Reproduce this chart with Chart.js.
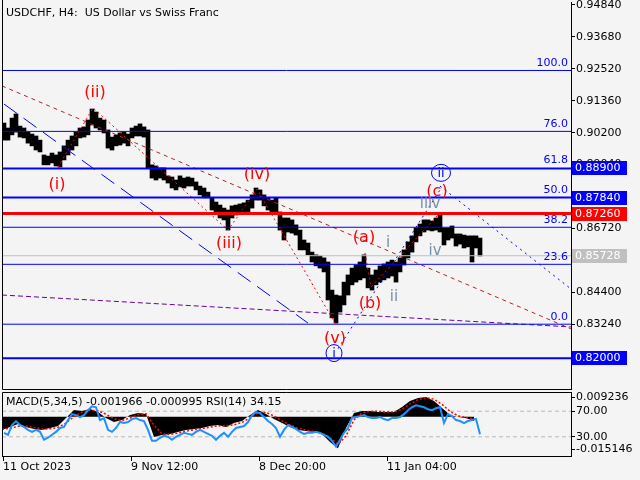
<!DOCTYPE html>
<html>
<head>
<meta charset="utf-8">
<script src="https://cdn.jsdelivr.net/npm/chart.js@4.4.1/dist/chart.umd.min.js"></script>
<style>
  html, body { margin: 0; padding: 0; background: #f4f4f4; }
  #wrap { position: relative; width: 640px; height: 480px; overflow: hidden; }
  #main { position: absolute; left: 0; top: 0; }
  #sub { position: absolute; left: 0; top: 390px; }
</style>
</head>
<body>
<div id="wrap">
  <canvas id="main" width="640" height="392"></canvas>
  <canvas id="sub" width="640" height="90"></canvas>
</div>
<script>
// ==========================
// Data (one high/low pair per 4 bars)
// ==========================
const priceHigh = [
  0.9055, 0.9037, 0.9073, 0.9088, 0.9044, 0.9037, 0.9022, 0.9015, 0.9008, 0.8993,
  0.8939, 0.8935, 0.8946, 0.8939, 0.8950, 0.8972, 0.8993, 0.9008, 0.9022, 0.9037,
  0.9041, 0.9066, 0.9106, 0.9095, 0.9073, 0.9066, 0.9030, 0.9004, 0.9012, 0.9019,
  0.9022, 0.9015, 0.9037, 0.9044, 0.9052, 0.9041, 0.9030, 0.8903, 0.8899, 0.8892,
  0.8892, 0.8863, 0.8859, 0.8848, 0.8863, 0.8855, 0.8859, 0.8855, 0.8841, 0.8826,
  0.8819, 0.8804, 0.8783, 0.8768, 0.8757, 0.8746, 0.8739, 0.8754, 0.8757, 0.8761,
  0.8765, 0.8775, 0.8794, 0.8819, 0.8812, 0.8794, 0.8783, 0.8775, 0.8783, 0.8732,
  0.8710, 0.8710, 0.8703, 0.8685, 0.8666, 0.8630, 0.8619, 0.8586, 0.8576, 0.8572,
  0.8565, 0.8550, 0.8448, 0.8430, 0.8427, 0.8477, 0.8503, 0.8528, 0.8539, 0.8550,
  0.8576, 0.8528, 0.8503, 0.8521, 0.8536, 0.8543, 0.8550, 0.8557, 0.8550, 0.8565,
  0.8594, 0.8623, 0.8645, 0.8674, 0.8688, 0.8703, 0.8703, 0.8699, 0.8710, 0.8721,
  0.8674, 0.8674, 0.8681, 0.8652, 0.8652, 0.8648, 0.8645, 0.8645, 0.8645, 0.8637
];
const priceLow = [
  0.8993, 0.8993, 0.9012, 0.9022, 0.9004, 0.9001, 0.8982, 0.8972, 0.8957, 0.8950,
  0.8903, 0.8903, 0.8910, 0.8899, 0.8895, 0.8921, 0.8939, 0.8957, 0.8972, 0.9001,
  0.9004, 0.9012, 0.9048, 0.9037, 0.9030, 0.9019, 0.8964, 0.8957, 0.8972, 0.8975,
  0.8982, 0.8972, 0.9001, 0.9008, 0.9008, 0.9004, 0.8892, 0.8855, 0.8848, 0.8855,
  0.8848, 0.8837, 0.8819, 0.8812, 0.8823, 0.8819, 0.8826, 0.8826, 0.8812, 0.8794,
  0.8783, 0.8783, 0.8739, 0.8725, 0.8710, 0.8703, 0.8666, 0.8710, 0.8721, 0.8728,
  0.8732, 0.8732, 0.8746, 0.8775, 0.8775, 0.8754, 0.8739, 0.8732, 0.8728, 0.8666,
  0.8630, 0.8659, 0.8655, 0.8648, 0.8594, 0.8594, 0.8576, 0.8550, 0.8536, 0.8528,
  0.8514, 0.8412, 0.8347, 0.8328, 0.8368, 0.8394, 0.8430, 0.8467, 0.8477, 0.8485,
  0.8492, 0.8456, 0.8448, 0.8467, 0.8477, 0.8485, 0.8492, 0.8499, 0.8477, 0.8514,
  0.8539, 0.8565, 0.8586, 0.8623, 0.8645, 0.8659, 0.8666, 0.8663, 0.8666, 0.8659,
  0.8612, 0.8630, 0.8637, 0.8608, 0.8615, 0.8601, 0.8605, 0.8550, 0.8601, 0.8572
];
const lastPrice = 0.85728;

// MACD(5,34,5): one value per 8 bars
const macdMain = [
  -0.0062, -0.0048, -0.0034, -0.0048, -0.0058, -0.0062, -0.0053, -0.0044, -0.0006, 0.0031,
  0.0027, 0.0036, 0.0022, -0.0006, -0.0025, -0.0016, 0.0008, 0.0017, 0.0013, -0.0095,
  -0.0086, -0.0081, -0.0072, -0.0062, -0.0058, -0.0053, -0.0044, -0.0039, -0.0048, -0.0030,
  -0.0020, 0.0008, 0.0031, 0.0013, -0.0011, -0.0030, -0.0048, -0.0062, -0.0067, -0.0072,
  -0.0081, -0.0119, -0.0148, -0.0053, 0.0017, 0.0027, 0.0027, 0.0022, 0.0022, 0.0022,
  0.0046, 0.0074, 0.0088, 0.0092, 0.0074, 0.0041, 0.0008, -0.0001, -0.0006, -0.0020
];
const macdSignal = [
  -0.0058, -0.0055, -0.0045, -0.0043, -0.0050, -0.0058, -0.0057, -0.0050, -0.0030, 0.0000,
  0.0022, 0.0030, 0.0028, 0.0012, -0.0010, -0.0018, -0.0006, 0.0010, 0.0014, -0.0040,
  -0.0080, -0.0083, -0.0077, -0.0068, -0.0061, -0.0056, -0.0049, -0.0042, -0.0044, -0.0038,
  -0.0027, -0.0006, 0.0018, 0.0020, 0.0003, -0.0020, -0.0038, -0.0054, -0.0063, -0.0069,
  -0.0076, -0.0098, -0.0130, -0.0090, -0.0015, 0.0018, 0.0025, 0.0025, 0.0022, 0.0022,
  0.0035, 0.0060, 0.0080, 0.0089, 0.0082, 0.0058, 0.0025, 0.0004, -0.0004, -0.0010
];
const macdMax = 0.009236;
const macdMin = -0.015146;

// RSI(14): one value per 4 bars
const rsiValues = [
  36.2, 33.1, 48.5, 54.6, 48.5, 45.4, 40.8, 37.7, 40.8, 37.7,
  25.4, 28.5, 33.1, 37.7, 43.8, 45.4, 56.1, 65.4, 63.8, 60.8,
  63.8, 71.5, 77.7, 76.2, 56.1, 59.2, 40.8, 37.7, 43.8, 53.1,
  51.5, 53.1, 57.7, 59.2, 56.1, 54.6, 40.8, 23.8, 23.8, 28.5,
  31.5, 30.0, 25.4, 30.0, 33.1, 36.2, 34.6, 33.1, 37.7, 40.8,
  37.7, 34.6, 31.5, 25.4, 31.5, 36.2, 30.0, 37.7, 43.8, 45.4,
  46.9, 53.1, 63.8, 68.5, 66.9, 60.8, 54.6, 50.0, 43.8, 30.0,
  40.8, 48.5, 45.4, 42.3, 37.7, 34.6, 36.2, 36.2, 37.7, 36.2,
  33.1, 30.0, 23.8, 14.6, 25.4, 36.2, 43.8, 59.2, 60.8, 62.3,
  63.8, 60.8, 59.2, 59.2, 60.8, 57.7, 56.1, 59.2, 59.2, 60.8,
  65.4, 71.5, 76.2, 79.2, 77.7, 76.2, 73.1, 71.5, 74.6, 76.2,
  51.5, 65.4, 62.3, 56.1, 54.6, 51.5, 54.6, 56.1, 57.7, 34.15
];
const rsiLevels = [70, 30];

// axes
const priceTicks = [0.9484, 0.9368, 0.9252, 0.9136, 0.9020, 0.8904, 0.8788, 0.8672, 0.8556, 0.8440, 0.8324, 0.8208];
const dateLabels = ['11 Oct 2023', '9 Nov 12:00', '8 Dec 20:00', '11 Jan 04:00'];
const dateBars = [1, 129, 257, 385];

// Fibonacci grid and horizontal levels
const fibZero = 0.8324;
const fibHundred = 0.9246;
const fibRatios = [100.0, 76.0, 61.8, 50.0, 38.2, 23.6, 0.0];
const keyLevels = [0.8890, 0.8784, 0.8726, 0.8200];

// trend lines, [bar, price]
const channelLine = [[0, 0.9190], [569, 0.8307]];
const waveZigzag = [[56, 0.8895], [91, 0.9110], [226, 0.8666], [255, 0.8815], [333, 0.8328]];
const abcZigzag = [[363, 0.8583], [369, 0.8459], [436, 0.8721]];
const blueDashed = [[2, 0.9124], [306, 0.8328]];
const purpleDashed = [[0, 0.8430], [569, 0.8314]];
const blueDotUp = [[336, 0.8235], [438, 0.8812]];
const blueDotDown = [[438, 0.8826], [569, 0.8452]];

// wave marks
const waveText = ['(i)', '(ii)', '(iii)', '(iv)', '(v)', '(a)', '(b)', '(c)'];
const waveBar = [55, 93, 227, 255, 333, 362, 368, 435];
const wavePrice = [0.8830, 0.9164, 0.8616, 0.8866, 0.8270, 0.8637, 0.8397, 0.8804];
const minorText = ['i', 'ii', 'iii', 'v', 'iv'];
const minorBar = [386, 392, 424, 434, 433];
const minorPrice = [0.8619, 0.8423, 0.8761, 0.8761, 0.8590];
const circleText = ['i', 'ii'];
const circleBar = [332, 439];
const circlePrice = [0.8219, 0.8874];

// ==========================
// Helpers
// ==========================
const FONT = '"DejaVu Sans"';
Chart.defaults.font.family = FONT;
Chart.defaults.font.size = 11;
Chart.defaults.color = '#000';
Chart.defaults.animation = false;

const LAST_BAR = 569;
const fibPrice = r => fibZero + (fibHundred - fibZero) * r / 100;

function pts(list) { return list.map(p => ({ x: p[0], y: p[1] })); }
function lineDs(list, color, width, dash, order) {
  return { type: 'line', data: pts(list), borderColor: color, borderWidth: width, borderDash: dash,
           pointRadius: 0, fill: false, tension: 0, order: order || 1 };
}
function hLine(v, color, width) { return lineDs([[0, v], [LAST_BAR, v]], color, width, []); }

// ==========================
// Main price panel
// ==========================
const mainOverlay = {
  id: 'mainOverlay',
  afterDraw(chart) {
    const { ctx, chartArea: a, scales: { x, y } } = chart;
    ctx.save();
    ctx.strokeStyle = '#000';
    ctx.lineWidth = 1;
    ctx.beginPath();
    ctx.moveTo(a.left + 0.5, 0);
    ctx.lineTo(a.left + 0.5, a.bottom + 0.5);
    ctx.lineTo(a.right, a.bottom + 0.5);
    ctx.stroke();

    ctx.font = '11px ' + FONT;
    ctx.fillStyle = '#000';
    ctx.textAlign = 'left';
    ctx.textBaseline = 'alphabetic';
    ctx.fillText('USDCHF, H4:  US Dollar vs Swiss Franc', 6, 16);

    // fibo ratios
    ctx.fillStyle = '#0000ff';
    ctx.textAlign = 'right';
    fibRatios.forEach(r => {
      ctx.fillText(r.toFixed(1), a.right - 3, y.getPixelForValue(fibPrice(r)) - 4);
    });

    // wave labels
    ctx.textAlign = 'center';
    ctx.textBaseline = 'middle';
    ctx.font = '16px ' + FONT;
    ctx.fillStyle = '#ff0000';
    waveText.forEach((t, i) => ctx.fillText(t, x.getPixelForValue(waveBar[i]), y.getPixelForValue(wavePrice[i])));
    ctx.font = '15px ' + FONT;
    ctx.fillStyle = '#7890a8';
    minorText.forEach((t, i) => ctx.fillText(t, x.getPixelForValue(minorBar[i]), y.getPixelForValue(minorPrice[i])));
    ctx.font = '13px ' + FONT;
    ctx.strokeStyle = '#0000ff';
    ctx.fillStyle = '#0000ff';
    circleText.forEach((t, i) => {
      const cx = x.getPixelForValue(circleBar[i]);
      const cy = y.getPixelForValue(circlePrice[i]);
      ctx.beginPath();
      ctx.ellipse(cx, cy, i ? 9.5 : 8, 8.5, 0, 0, Math.PI * 2);
      ctx.stroke();
      ctx.fillText(t, cx, cy + 1);
    });

    // price boxes on the axis
    const boxColors = ['#0000ff', '#0000ff', '#ff0000', '#0000ff'];
    const boxes = keyLevels.map((v, i) => [v, boxColors[i]]);
    boxes.push([lastPrice, '#c0c0c0']);
    ctx.font = '11px ' + FONT;
    ctx.textAlign = 'left';
    boxes.forEach(([v, c]) => {
      const py = Math.round(y.getPixelForValue(v));
      ctx.fillStyle = c;
      ctx.fillRect(a.right + 1, py - 7, 55, 14);
      ctx.fillStyle = '#fff';
      ctx.fillText(v.toFixed(5), a.right + 4, py + 0.5);
    });
    ctx.restore();
  }
};

const mainSets = [
  { type: 'bar', data: priceHigh.map((h, i) => ({ x: i * 4 + 2, y: [priceLow[i], h] })),
    backgroundColor: '#000', borderWidth: 0, barThickness: 4, order: 5 },
  ...fibRatios.filter(r => r !== 61.8 && r !== 50.0).map(r => hLine(fibPrice(r), '#0000ff', 1)),
  hLine(keyLevels[0], '#0000ff', 2),
  hLine(keyLevels[1], '#0000ff', 2),
  hLine(keyLevels[2], '#ff0000', 3),
  hLine(keyLevels[3], '#0000ff', 2),
  hLine(lastPrice, '#c0c0c0', 1),
  lineDs(channelLine, '#b22222', 1, [4, 4]),
  lineDs(waveZigzag, '#ff0000', 1, [2, 3]),
  lineDs(abcZigzag, '#ff0000', 1, [2, 3]),
  lineDs(blueDashed, '#0000ff', 1, [16, 8]),
  lineDs(purpleDashed, '#660099', 1, [5, 3]),
  lineDs(blueDotUp, '#0000ff', 1, [2, 4]),
  lineDs(blueDotDown, '#0000ff', 1, [2, 4])
];

new Chart(document.getElementById('main'), {
  type: 'bar',
  data: { datasets: mainSets },
  options: {
    responsive: false,
    layout: { padding: { left: 2, top: 2, right: 0, bottom: 3 } },
    plugins: { legend: { display: false }, tooltip: { enabled: false } },
    scales: {
      x: { type: 'linear', min: 0, max: LAST_BAR, offset: false, display: false },
      y: {
        position: 'right', min: 0.80885, max: 0.94949,
        afterBuildTicks: s => { s.ticks = priceTicks.map(v => ({ value: v })); },
        afterFit: s => { s.width = 69; s.paddingTop = 0; s.paddingBottom = 0; },
        ticks: { autoSkip: false, padding: 1, callback: v => v.toFixed(5) },
        grid: { drawOnChartArea: false, drawTicks: true, tickLength: 4, tickColor: '#000' },
        border: { color: '#000' }
      }
    }
  },
  plugins: [mainOverlay]
});

// ==========================
// MACD + RSI panel
// ==========================
const subOverlay = {
  id: 'subOverlay',
  afterDraw(chart) {
    const { ctx, chartArea: a, scales } = chart;
    const m = scales.macd;
    ctx.save();
    ctx.strokeStyle = '#000';
    ctx.lineWidth = 1;
    ctx.beginPath();
    ctx.moveTo(a.left + 0.5, a.bottom);
    ctx.lineTo(a.left + 0.5, a.top + 0.5);
    ctx.lineTo(a.right, a.top + 0.5);
    ctx.stroke();

    ctx.font = '11px ' + FONT;
    ctx.fillStyle = '#000';
    ctx.textAlign = 'left';
    ctx.textBaseline = 'middle';
    [macdMax, macdMin].forEach(v => {
      const py = Math.round(m.getPixelForValue(v)) + 0.5;
      ctx.beginPath();
      ctx.moveTo(a.right, py);
      ctx.lineTo(a.right + 4, py);
      ctx.stroke();
      ctx.fillText(v.toFixed(6), a.right + 5, py);
    });
    ctx.textBaseline = 'alphabetic';
    ctx.fillText('MACD(5,34,5) -0.001966 -0.000995 RSI(14) 34.15', 6, 15);
    ctx.restore();
  }
};

new Chart(document.getElementById('sub'), {
  type: 'line',
  data: {
    datasets: [
      ...rsiLevels.map(v => ({ data: [{ x: 0, y: v }, { x: LAST_BAR, y: v }], yAxisID: 'rsi',
        borderColor: '#b8b8b8', borderWidth: 1, borderDash: [4, 3], pointRadius: 0, order: 9 })),
      { data: macdMain.map((v, i) => ({ x: i * 8, y: v })), yAxisID: 'macd', fill: 'origin',
        backgroundColor: '#000', borderWidth: 0, pointRadius: 0, tension: 0, order: 4 },
      { data: macdSignal.map((v, i) => ({ x: i * 8, y: v })), yAxisID: 'macd',
        borderColor: '#ff0000', borderWidth: 1.5, borderDash: [2, 2], pointRadius: 0, order: 3 },
      { data: rsiValues.map((v, i) => ({ x: i * 4 + 2, y: v })), yAxisID: 'rsi',
        borderColor: '#1e90ff', borderWidth: 2, pointRadius: 0, tension: 0, order: 1 }
    ]
  },
  options: {
    responsive: false,
    layout: { padding: { left: 2, top: 2, right: 0, bottom: 0 } },
    plugins: { legend: { display: false }, tooltip: { enabled: false } },
    scales: {
      x: {
        type: 'linear', min: 0, max: LAST_BAR,
        afterBuildTicks: s => { s.ticks = dateBars.map(v => ({ value: v })); },
        afterFit: s => { s.height = 24; s.paddingLeft = 0; s.paddingRight = 0; },
        ticks: { autoSkip: false, maxRotation: 0, align: 'start', padding: 0,
                 callback: (v, i) => dateLabels[i] },
        grid: { drawOnChartArea: false, tickLength: 5, tickColor: '#000' },
        border: { color: '#000' }
      },
      rsi: {
        position: 'right', min: 0, max: 100,
        afterBuildTicks: s => { s.ticks = rsiLevels.map(v => ({ value: v })); },
        afterFit: s => { s.width = 69; s.paddingTop = 0; s.paddingBottom = 0; },
        ticks: { autoSkip: false, padding: 1, callback: v => v.toFixed(2) },
        grid: { drawOnChartArea: false, tickLength: 4, tickColor: '#000' },
        border: { color: '#000' }
      },
      macd: { display: false, min: -0.018428, max: 0.011580 }
    }
  },
  plugins: [subOverlay]
});
</script>
</body>
</html>
